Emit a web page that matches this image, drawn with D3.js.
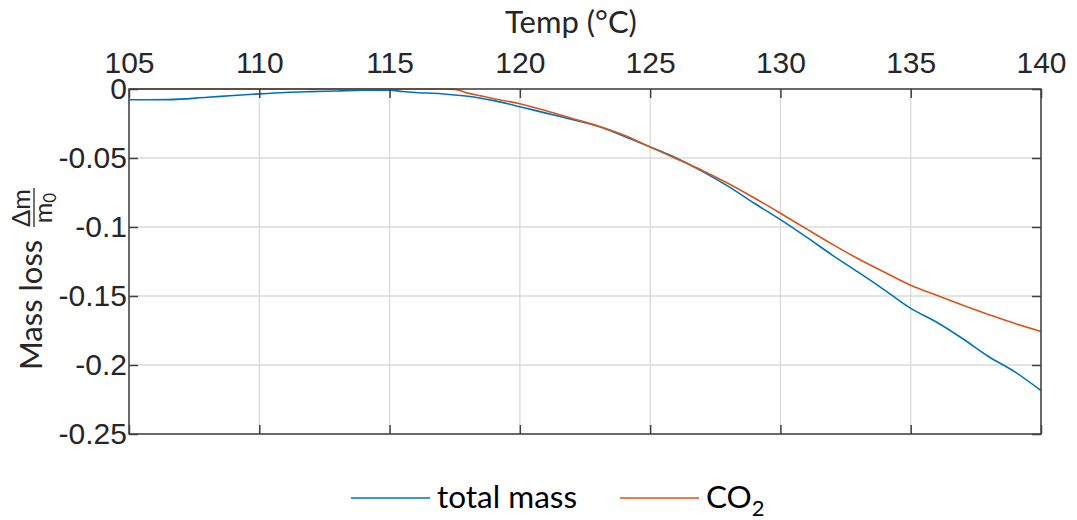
<!DOCTYPE html>
<html>
<head>
<meta charset="utf-8">
<script src="https://cdn.jsdelivr.net/npm/d3@7"></script>
<style>
  body { margin: 0; background: #fff; }
  svg { display: block; font-family: Lato, "Open Sans", sans-serif; }
  .tick text { fill: #262626; }
</style>
</head>
<body>
<svg id="chart"></svg>
<script>
// temperature samples (°C)
const temps = [105, 106.5, 108, 109, 110, 111, 112, 113, 114, 115, 115.5, 116, 117, 117.5, 118, 118.5, 119,
               120, 121, 122, 123, 124, 125, 126, 127, 128, 129, 130, 131, 132, 133, 134, 135, 136, 137, 138, 139, 140];

// relative mass loss dm/m0
const totalMass = [-0.0078, -0.0077, -0.006, -0.0047, -0.0035, -0.0025, -0.0019, -0.0014, -0.0009, -0.0008,
                   -0.0018, -0.0025, -0.0034, -0.0043, -0.0053, -0.0067, -0.0084,
                   -0.0128, -0.0175, -0.0221, -0.027, -0.0342, -0.042, -0.050, -0.0597, -0.0706, -0.0828,
                   -0.0947, -0.1073, -0.1205, -0.1329, -0.1457, -0.159, -0.169, -0.181, -0.194, -0.205, -0.2185];

const co2 = [0, 0, 0, 0, 0, 0, 0, 0, 0, 0, 0, 0, 0,
             -0.0003, -0.003, -0.005, -0.007,
             -0.0107, -0.0158, -0.0213, -0.0268, -0.0335, -0.042, -0.0505, -0.059, -0.0685, -0.079,
             -0.090, -0.1014, -0.1126, -0.1232, -0.1328, -0.1422, -0.1495, -0.1567, -0.1635, -0.170, -0.1757];

const xTicks = [105, 110, 115, 120, 125, 130, 135, 140];
const yTicks = [0, -0.05, -0.1, -0.15, -0.2, -0.25];
const yTickLabels = ["0", "-0.05", "-0.1", "-0.15", "-0.2", "-0.25"];

const seriesNames = ["total mass", "CO2"];
const seriesColors = ["#0072BD", "#D95319"];

drawChart();

function drawChart(){
    const width = 1077;
    const height = 520;
    const margin = {top: 89, right: 36, bottom: 86, left: 129};

    const svg = d3.select("#chart")
                    .attr("width", width)
                    .attr("height", height);

    const innerW = width - margin.left - margin.right;
    const innerH = height - margin.top - margin.bottom;

    const x = d3.scaleLinear().domain([105, 140]).range([0, innerW]);
    const y = d3.scaleLinear().domain([0, -0.25]).range([0, innerH]);

    const g = svg.append("g")
                    .attr("transform", `translate(${margin.left}, ${margin.top})`);

    // grid
    g.selectAll(".vgrid")
        .data(xTicks)
        .enter()
        .append("line")
        .attr("x1", d => x(d)).attr("x2", d => x(d))
        .attr("y1", 0).attr("y2", innerH)
        .attr("stroke", "#dadada")
        .attr("stroke-width", 1.3);

    g.selectAll(".hgrid")
        .data(yTicks)
        .enter()
        .append("line")
        .attr("x1", 0).attr("x2", innerW)
        .attr("y1", d => y(d)).attr("y2", d => y(d))
        .attr("stroke", "#dadada")
        .attr("stroke-width", 1.3);

    // data lines
    const series = [totalMass, co2];
    const line = d3.line()
                    .x((d, i) => x(temps[i]))
                    .y(d => y(d))
                    .curve(d3.curveMonotoneX);

    g.selectAll(".series")
        .data(series)
        .enter()
        .append("path")
        .attr("fill", "none")
        .attr("stroke", (d, i) => seriesColors[i])
        .attr("stroke-width", 1.6)
        .attr("d", line);

    // axes (ticks point inside, like matlab)
    const axisStyle = sel => {
        sel.select(".domain").remove();
        sel.selectAll(".tick line").attr("stroke", "#404040").attr("stroke-width", 1.5);
    };

    g.append("g")
        .call(d3.axisTop(x).tickValues(xTicks).tickSizeInner(-9).tickSizeOuter(0).tickPadding(16).tickFormat(d3.format("d")))
        .call(axisStyle)
        .selectAll("text")
        .attr("font-size", 30);

    g.append("g")
        .attr("transform", `translate(0, ${innerH})`)
        .call(d3.axisBottom(x).tickValues(xTicks).tickSizeInner(-9).tickSizeOuter(0).tickFormat(""))
        .call(axisStyle);

    g.append("g")
        .call(d3.axisLeft(y).tickValues(yTicks).tickSizeInner(-9).tickSizeOuter(0).tickPadding(2)
                .tickFormat((d, i) => yTickLabels[i]))
        .call(axisStyle)
        .selectAll("text")
        .attr("font-size", 30);

    g.append("g")
        .attr("transform", `translate(${innerW}, 0)`)
        .call(d3.axisRight(y).tickValues(yTicks).tickSizeInner(-9).tickSizeOuter(0).tickFormat(""))
        .call(axisStyle);

    // box
    g.append("rect")
        .attr("width", innerW)
        .attr("height", innerH)
        .attr("fill", "none")
        .attr("stroke", "#404040")
        .attr("stroke-width", 1.5);

    // x title
    svg.append("text")
        .attr("x", 571)
        .attr("y", 33)
        .attr("text-anchor", "middle")
        .attr("font-size", 31)
        .attr("fill", "#262626")
        .text("Temp (°C)");

    // y title: Mass loss Δm/m0
    const yt = svg.append("g")
                    .attr("transform", "translate(42, 370) rotate(-90)")
                    .attr("fill", "#262626");

    yt.append("text")
        .attr("x", 0)
        .attr("y", 0)
        .attr("font-size", 31)
        .text("Mass loss");

    yt.append("text")
        .attr("x", 162)
        .attr("y", -12)
        .attr("text-anchor", "middle")
        .attr("font-size", 25)
        .text("Δm");

    yt.append("line")
        .attr("x1", 143).attr("x2", 182)
        .attr("y1", -8).attr("y2", -8)
        .attr("stroke", "#262626")
        .attr("stroke-width", 1.3);

    const den = yt.append("text")
        .attr("x", 162)
        .attr("y", 10)
        .attr("text-anchor", "middle")
        .attr("font-size", 25);
    den.append("tspan").text("m");
    den.append("tspan").attr("font-size", 17).attr("dy", 4).text("0");

    // legend
    const legendY = 498;
    const legendX = [351, 620];

    const legend = svg.selectAll(".legend-item")
                        .data(seriesNames)
                        .enter()
                        .append("g")
                        .attr("transform", (d, i) => `translate(${legendX[i]}, ${legendY})`);

    legend.append("line")
        .attr("x1", 0).attr("x2", 79)
        .attr("y1", 0).attr("y2", 0)
        .attr("stroke", (d, i) => seriesColors[i])
        .attr("stroke-width", 1.6);

    const ltext = legend.append("text")
        .attr("x", 86)
        .attr("y", 10)
        .attr("font-size", 31.5)
        .attr("fill", "#000");

    ltext.filter(d => d !== "CO2").text(d => d);
    const co2Label = ltext.filter(d => d === "CO2");
    co2Label.append("tspan").text("CO");
    co2Label.append("tspan").attr("font-size", 22).attr("dy", 8).text("2");
}
</script>
</body>
</html>
